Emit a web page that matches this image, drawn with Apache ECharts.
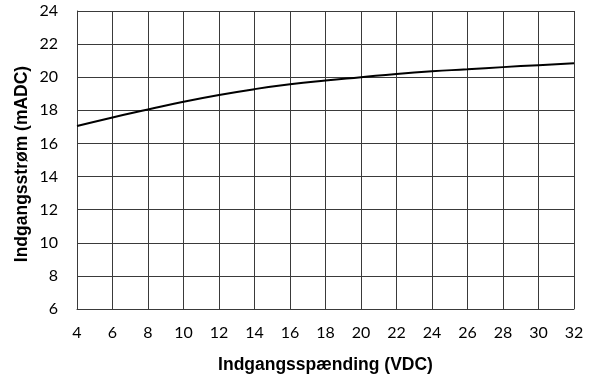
<!DOCTYPE html>
<html><head><meta charset="utf-8">
<script src="https://cdn.jsdelivr.net/npm/echarts@6/dist/echarts.min.js"></script>
<style>html,body{margin:0;padding:0;background:#fff}#c{width:596px;height:381px}</style>
</head><body><div id="c"></div>
<script>
const voltage = [4, 6, 8, 10, 12, 14, 16, 18, 20, 22, 24, 26, 28, 30, 32];
const current = [17.05, 17.57, 18.05, 18.52, 18.93, 19.28, 19.57, 19.8, 20.0, 20.2, 20.36, 20.48, 20.61, 20.73, 20.84];
const xTitle = 'Indgangsspænding (VDC)';
const yTitle = 'Indgangsstrøm (mADC)';

const chart = echarts.init(document.getElementById('c'), null, {renderer: 'canvas'});
const gridColor = '#3a3a3a';
const titleStyle = {fontFamily: 'Liberation Sans', fontWeight: 'bold', fontSize: 17.5, color: '#000'};
chart.setOption({
  animation: false,
  grid: {left: 77, right: 22, top: 11, bottom: 72, containLabel: false},
  graphic: [{
    type: 'text', x: 22, y: 164, rotation: Math.PI / 2,
    style: {text: yTitle, fill: '#000', font: 'bold 17.5px "Liberation Sans"', textAlign: 'center', textVerticalAlign: 'middle'}
  }],
  xAxis: {
    type: 'value', min: 4, max: 32, interval: 2,
    name: xTitle, nameLocation: 'middle', nameGap: 47,
    nameTextStyle: titleStyle,
    axisLine: {show: true, lineStyle: {color: gridColor, width: 1}},
    axisTick: {show: false},
    axisLabel: {fontFamily: 'Lato', fontSize: 16, color: '#000', margin: 16},
    splitLine: {show: true, lineStyle: {color: gridColor, width: 1}}
  },
  yAxis: {
    type: 'value', min: 6, max: 24, interval: 2,
    axisLine: {show: true, lineStyle: {color: gridColor, width: 1}},
    axisTick: {show: false},
    axisLabel: {fontFamily: 'Lato', fontSize: 16, color: '#000', margin: 19},
    splitLine: {show: true, lineStyle: {color: gridColor, width: 1}}
  },
  series: [{
    type: 'line',
    data: voltage.map((v, i) => [v, current[i]]),
    smooth: true,
    showSymbol: false,
    lineStyle: {color: '#000', width: 2}
  }]
});
</script></body></html>
